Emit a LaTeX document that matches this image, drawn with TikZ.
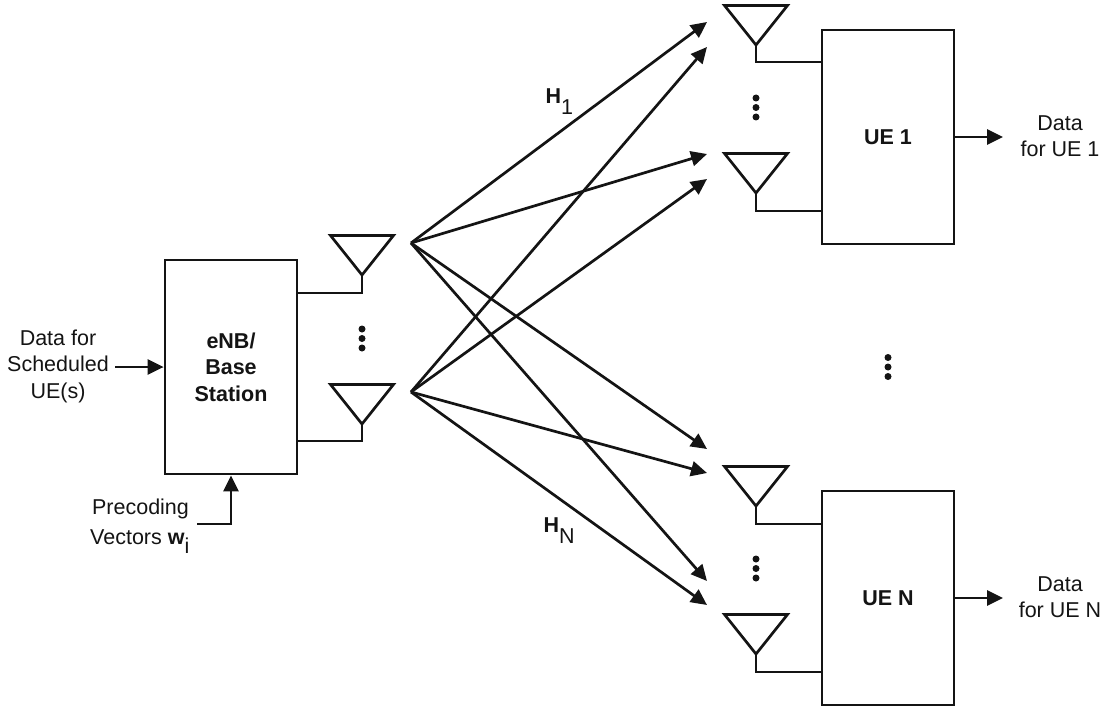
\documentclass[tikz,border=0pt]{standalone}
\usepackage{fontspec}
\setmainfont{Liberation Sans}
\usetikzlibrary{arrows.meta,calc}
\definecolor{ink}{HTML}{141414}
\newcommand{\antenna}[3]{%
  \coordinate (#1) at (#2,#3);
  \coordinate (#1L) at (#2-31.5,#3-39.5);
  \coordinate (#1R) at (#2+31.5,#3-39.5);
  \draw[wire,line join=miter] (#1) -- (#1L) -- (#1R) -- cycle;}
\newcommand{\vdotsrow}[2]{%
  \fill[ink] (#1,#2-9.5) circle (3.5) (#1,#2) circle (3.5) (#1,#2+9.5) circle (3.5);}
\newcommand{\lowered}[2]{\raisebox{-#1pt}{#2}}
\begin{document}
\begin{tikzpicture}[x=1pt,y=-1pt,
  wire/.style={draw=ink,line width=2.7pt},
  arrow/.style={wire,-{Triangle[length=16pt,width=15pt]}},
  block/.style={draw=ink,line width=2.7pt,fill=white,minimum width=132pt,minimum height=214pt,inner sep=0pt,align=center,text=ink,font=\fontsize{21.5}{26.5}\selectfont\bfseries},
  label/.style={inner sep=0pt,align=center,text=ink,font=\fontsize{21.5}{26.5}\selectfont}]
\useasboundingbox (0,0) rectangle (1102,706);
% blocks
\node[block] (enb) at (231,367) {eNB/\\Base\\Station};
\node[block] (ue1) at (888,137) {UE 1};
\node[block] (ueN) at (888,598) {UE N};
% antennas
\antenna{a1}{362}{275}
\antenna{a2}{362}{424}
\antenna{b1}{756}{45}
\antenna{b2}{756}{193}
\antenna{c1}{756}{506}
\antenna{c2}{756}{654}
% antenna feeds
\draw[wire,line join=miter] (a1) |- (enb.east |- 0,293);
\draw[wire,line join=miter] (a2) |- (enb.east |- 0,441);
\draw[wire,line join=miter] (b1) |- (ue1.west |- 0,62);
\draw[wire,line join=miter] (b2) |- (ue1.west |- 0,211);
\draw[wire,line join=miter] (c1) |- (ueN.west |- 0,524);
\draw[wire,line join=miter] (c2) |- (ueN.west |- 0,672);
% dots
\vdotsrow{362}{338.5}
\vdotsrow{756}{107.5}
\vdotsrow{756}{568.5}
\vdotsrow{888}{367}
% channel sources and targets
\coordinate (s1) at (411,243);
\coordinate (s2) at (411,392);
\coordinate (t1) at (707,22);
\coordinate (t2) at (707,47);
\coordinate (t3) at (707,154);
\coordinate (t4) at (707,179);
\coordinate (t5) at (707,449);
\coordinate (t6) at (707,473);
\coordinate (t7) at (707,581);
\coordinate (t8) at (707,605);
\foreach \t in {t1,t3,t5,t7} \draw[arrow] (s1) -- (\t);
\foreach \t in {t2,t4,t6,t8} \draw[arrow] (s2) -- (\t);
% inputs and outputs
\node[label] (din) at (58,366) {Data for\\Scheduled\\UE(s)};
\coordinate (dinEnd) at (115,367);
\draw[arrow] (dinEnd) -- (enb.west);
\node[label,anchor=base] (prec) at (140.5,514) {Precoding};
\node[label,anchor=base west] (vec) at (90,544) {Vectors \textbf{w}\lowered{9}{i}};
\coordinate (pc) at (197,524);
\draw[arrow,line join=miter] (pc) -| (enb.south);
\node[label] (o1) at (1060,136) {Data\\for UE 1};
\node[label] (oN) at (1060,597) {Data\\for UE N};
\coordinate (e1) at (1003,137);
\coordinate (eN) at (1003,598);
\draw[arrow] (ue1.east) -- (e1);
\draw[arrow] (ueN.east) -- (eN);
% channel labels
\node[label,anchor=base west] (h1) at (545.5,104) {\textbf{H}\lowered{11}{1}};
\node[label,anchor=base west] (hN) at (543.5,532) {\textbf{H}\lowered{11}{N}};
\end{tikzpicture}
\end{document}
